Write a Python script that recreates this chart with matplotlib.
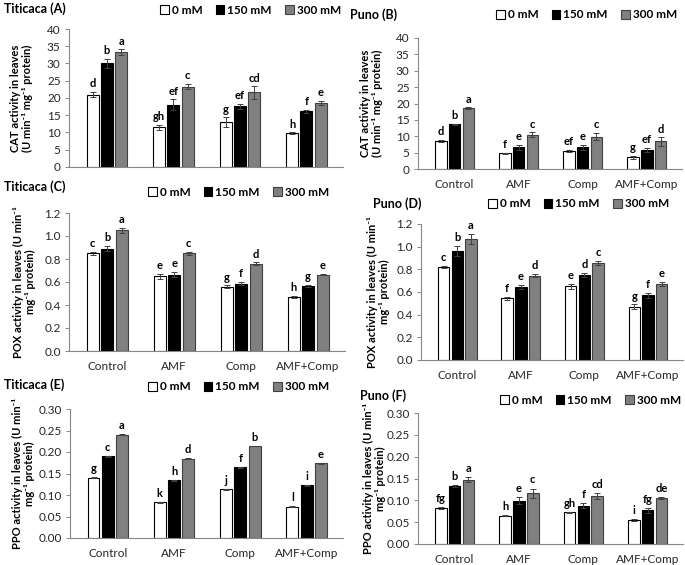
import matplotlib.pyplot as plt
import numpy as np

plt.rcParams['font.family'] = ['Lato', 'DejaVu Sans']

groups = ['Control', 'AMF', 'Comp', 'AMF+Comp']
doses = ['0 mM', '150 mM', '300 mM']
colors = ['white', 'black', '#808080']

# CAT Titicaca (A)
cat_t = [[21.0, 11.5, 13.0, 9.8], [30.0, 18.0, 17.6, 16.1], [33.3, 23.3, 21.6, 18.6]]
cat_t_err = [[0.7, 0.8, 1.4, 0.2], [1.4, 1.6, 0.8, 0.5], [0.8, 0.7, 1.8, 0.6]]
cat_t_let = [['d', 'gh', 'g', 'h'], ['b', 'ef', 'ef', 'f'], ['a', 'c', 'cd', 'e']]
# CAT Puno (B)
cat_p = [[8.6, 4.8, 5.6, 3.6], [13.6, 6.6, 6.6, 5.8], [18.6, 10.5, 9.9, 8.4]]
cat_p_err = [[0.3, 0.1, 0.3, 0.4], [0.2, 0.8, 0.8, 0.6], [0.2, 0.7, 1.1, 1.3]]
cat_p_let = [['d', 'f', 'ef', 'g'], ['b', 'e', 'e', 'ef'], ['a', 'c', 'c', 'd']]
# POX Titicaca (C)
pox_t = [[0.85, 0.65, 0.56, 0.47], [0.89, 0.665, 0.585, 0.565], [1.05, 0.85, 0.76, 0.665]]
pox_t_err = [[0.015, 0.02, 0.01, 0.01], [0.02, 0.02, 0.015, 0.008], [0.02, 0.015, 0.01, 0.006]]
pox_t_let = [['c', 'e', 'g', 'h'], ['b', 'e', 'f', 'g'], ['a', 'c', 'd', 'e']]
# POX Puno (D)
pox_p = [[0.82, 0.545, 0.65, 0.47], [0.965, 0.645, 0.75, 0.57], [1.065, 0.745, 0.855, 0.67]]
pox_p_err = [[0.01, 0.015, 0.02, 0.02], [0.045, 0.015, 0.02, 0.02], [0.045, 0.015, 0.02, 0.02]]
pox_p_let = [['c', 'f', 'e', 'g'], ['b', 'e', 'd', 'f'], ['a', 'd', 'c', 'e']]
# PPO Titicaca (E)
ppo_t = [[0.14, 0.083, 0.113, 0.073], [0.19, 0.134, 0.164, 0.123], [0.24, 0.184, 0.214, 0.174]]
ppo_t_err = [[0.001, 0.001, 0.001, 0.001], [0.001, 0.001, 0.001, 0.001], [0.001, 0.001, 0.001, 0.001]]
ppo_t_let = [['g', 'k', 'j', 'l'], ['c', 'h', 'f', 'i'], ['a', 'd', 'b', 'e']]
# PPO Puno (F)
ppo_p = [[0.083, 0.065, 0.073, 0.055], [0.133, 0.099, 0.088, 0.077], [0.147, 0.116, 0.110, 0.105]]
ppo_p_err = [[0.002, 0.002, 0.001, 0.002], [0.002, 0.008, 0.006, 0.006], [0.006, 0.011, 0.007, 0.002]]
ppo_p_let = [['fg', 'h', 'gh', 'i'], ['b', 'e', 'f', 'fg'], ['a', 'c', 'cd', 'de']]

W, H = 685, 565
fig = plt.figure(figsize=(6.85, 5.65), dpi=100)


def px_axes(left, right, top, bottom):
    return fig.add_axes([left / W, 1 - bottom / H, (right - left) / W, (bottom - top) / H])


def panel(box, vals, errs, lets, ymax, ystep, fmt, ylabel, lab_dx, title, tpos, lpos,
          xlabels, off):
    ax = px_axes(*box)
    x = np.arange(len(groups))
    bw, pitch = 0.18, 0.215
    handles = []
    for i in range(3):
        xs = x + (i - 1) * pitch
        b = ax.bar(xs, vals[i], bw, color=colors[i], edgecolor='black' if i < 2 else '#404040',
                   linewidth=0.8, yerr=errs[i], capsize=2,
                   error_kw=dict(elinewidth=0.7, ecolor='#404040', capthick=0.7))
        handles.append(b)
        for xx, v, e, t in zip(xs, vals[i], errs[i], lets[i]):
            ax.text(xx, v + e + off, t, ha='center', va='bottom', fontsize=8, fontweight='bold')
    ax.set_xlim(-0.57, 3.55)
    ax.set_ylim(0, ymax)
    ticks = np.arange(0, ymax + ystep / 2, ystep)
    ax.set_yticks(ticks)
    ax.set_yticklabels([fmt.format(t) for t in ticks], fontsize=8.5, color='#262626')
    ax.set_xticks(x)
    ax.set_xticklabels(groups if xlabels else [], fontsize=8.5, color='#262626')
    ax.tick_params(axis='x', length=0, pad=7)
    ax.tick_params(axis='y', length=3, width=0.7, color='#868686', pad=3)
    for s in ['top', 'right']:
        ax.spines[s].set_visible(False)
    for s in ['left', 'bottom']:
        ax.spines[s].set_color('#868686')
        ax.spines[s].set_linewidth(0.8)
    ax.set_ylabel(ylabel, fontsize=8, fontweight='bold', linespacing=1.1)
    ax.yaxis.set_label_coords(-lab_dx / (box[1] - box[0]), 0.5)
    fig.text(tpos[0] / W, 1 - tpos[1] / H, title, fontsize=9, fontweight='bold',
             ha='left', va='center')
    fig.legend(handles, doses, loc='center left', bbox_to_anchor=(lpos[0] / W, 1 - lpos[1] / H),
               ncol=3, frameon=False, prop=dict(size=8.5, weight='bold'), handlelength=0.75,
               handleheight=0.75, handletextpad=0.25, columnspacing=1.1, borderpad=0,
               borderaxespad=0)
    return ax


cat_lab = 'CAT activity in leaves\n(U min⁻¹ mg⁻¹ protein)'
pox_lab = 'POX activity in leaves (U min⁻¹\nmg⁻¹ protein)'
ppo_lab = 'PPO activity in leaves (U min⁻¹\nmg⁻¹ protein)'

panel((69, 343, 29, 167), cat_t, cat_t_err, cat_t_let, 40, 5, '{:.0f}', cat_lab, 36,
      'Titicaca (A)', (4, 9), (160, 10), False, 0.8)
panel((418, 682, 38, 169), cat_p, cat_p_err, cat_p_let, 40, 5, '{:.0f}', cat_lab, 35,
      'Puno (B)', (350, 15), (496, 15), True, 0.8)
panel((69, 345, 213, 351), pox_t, pox_t_err, pox_t_let, 1.2, 0.2, '{:.1f}', pox_lab, 33,
      'Titicaca (C)', (4, 187), (148, 192), True, 0.025)
panel((421, 683, 224, 360), pox_p, pox_p_err, pox_p_let, 1.2, 0.2, '{:.1f}', pox_lab, 31,
      'Puno (D)', (373, 204), (488, 204), True, 0.025)
panel((70, 343, 409, 538), ppo_t, ppo_t_err, ppo_t_let, 0.30, 0.05, '{:.2f}', ppo_lab, 35,
      'Titicaca (E)', (4, 385), (148, 387), True, 0.007)
panel((418, 683, 413, 544), ppo_p, ppo_p_err, ppo_p_let, 0.30, 0.05, '{:.2f}', ppo_lab, 32,
      'Puno (F)', (360, 396), (500, 400), True, 0.007)

fig.savefig('out.png', dpi=100)
